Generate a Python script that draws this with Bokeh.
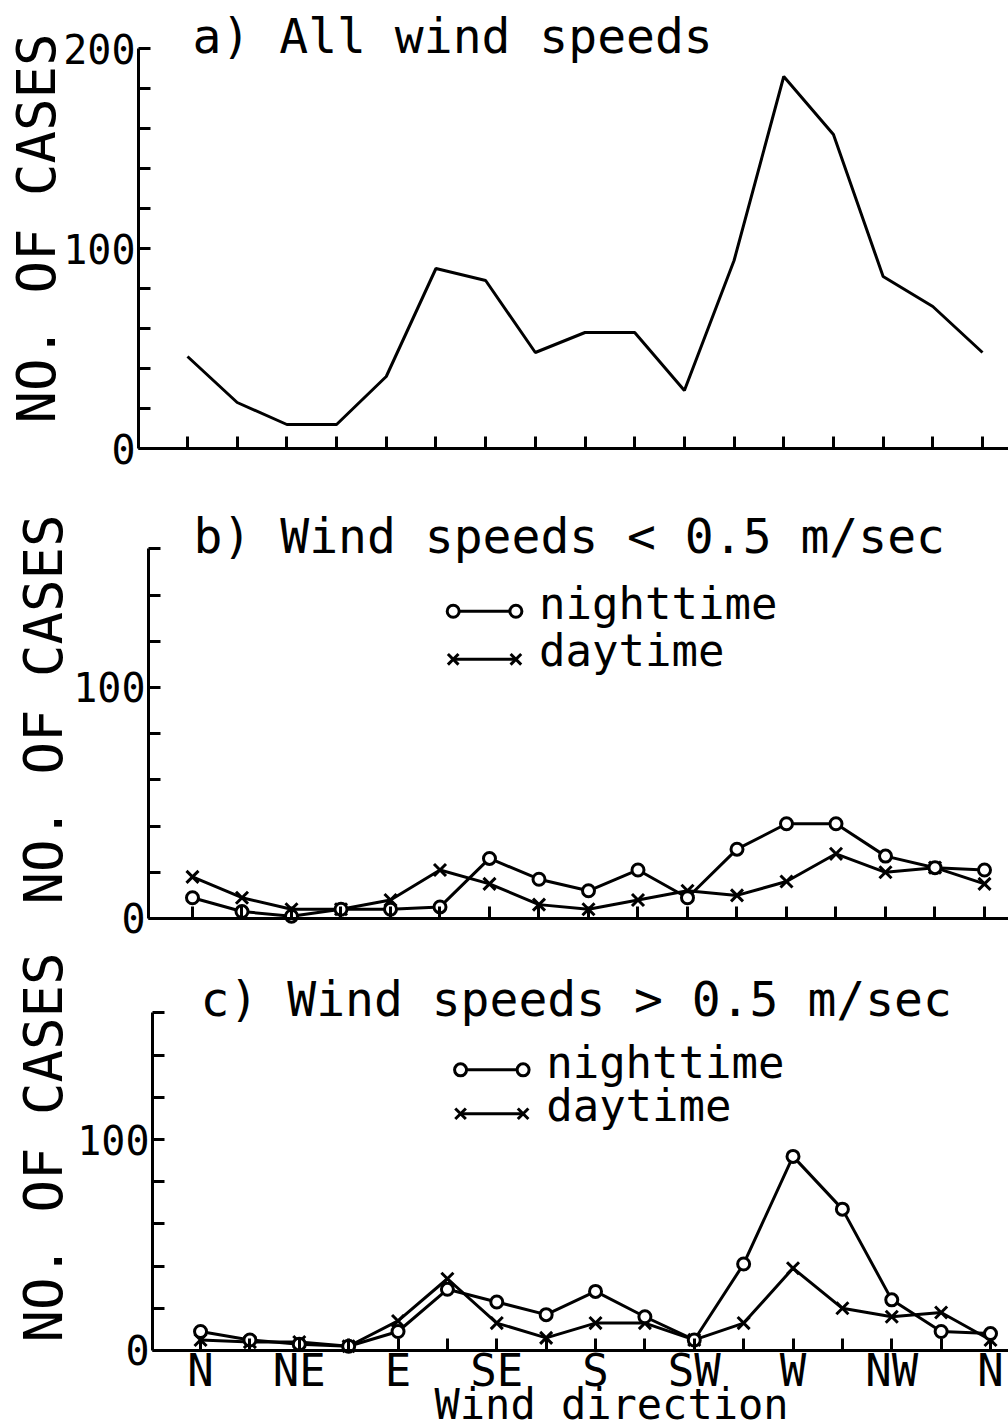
import math
from bokeh.plotting import figure
from bokeh.layouts import column
from bokeh.models import FixedTicker, Label, ColumnDataSource, Range1d
from bokeh.embed import file_html
from bokeh.resources import INLINE

# ---------------- data ----------------
directions = ["N", "NNE", "NE", "ENE", "E", "ESE", "SE", "SSE", "S",
              "SSW", "SW", "WSW", "W", "WNW", "NW", "NNW", "N"]
step_deg = 22.5

all_speeds = [46, 23, 12, 12, 36, 90, 84, 48, 58, 58, 29, 94, 186, 157, 86, 71, 48]

calm_night = [9, 3, 1, 4, 4, 5, 26, 17, 12, 21, 9, 30, 41, 41, 27, 22, 21]
calm_day = [18, 9, 4, 4, 8, 21, 15, 6, 4, 8, 12, 10, 16, 28, 20, 22, 15]

windy_night = [9, 5, 3, 2, 9, 29, 23, 17, 28, 16, 5, 41, 92, 67, 24, 9, 8]
windy_day = [5, 4, 4, 2, 14, 34, 13, 6, 13, 13, 5, 13, 39, 20, 16, 18, 5]

x_tick_labels = {0: "N", 45: "NE", 90: "E", 135: "SE", 180: "S",
                 225: "SW", 270: "W", 315: "NW", 360: "N"}
y_tick_labels = {0: "0", 100: "100", 200: "200"}

titles = ["a) All wind speeds", "b) Wind speeds < 0.5 m/sec", "c) Wind speeds > 0.5 m/sec"]
y_title = "NO. OF CASES"
x_title = "Wind direction"
series_names = ["nighttime", "daytime"]

deg = [i * step_deg for i in range(len(directions))]

FONT = "DejaVu Sans Mono"
INK = "black"
WIDTH = 1008


def make_panel(h, xr, yr, axis_x, ytop, show_x_labels):
    p = figure(width=WIDTH, height=h, x_range=Range1d(*xr), y_range=Range1d(*yr),
               output_backend="svg", toolbar_location=None,
               min_border_left=0, min_border_right=0,
               min_border_top=0, min_border_bottom=0)
    p.outline_line_color = None
    p.grid.visible = False
    p.background_fill_color = "white"
    p.border_fill_color = "white"

    xa = p.xaxis[0]
    ya = p.yaxis[0]
    for ax in (xa, ya):
        ax.axis_line_width = 3
        ax.axis_line_color = INK
        ax.major_tick_line_width = 3
        ax.major_tick_line_color = INK
        ax.major_tick_in = 12
        ax.major_tick_out = 0
        ax.minor_tick_line_color = None
        ax.major_label_text_font = FONT
        ax.major_label_text_color = INK

    xa.fixed_location = 0
    xa.bounds = (axis_x, xr[1])
    xa.ticker = FixedTicker(ticks=deg)
    if show_x_labels:
        xa.major_label_overrides = {float(t): (x_tick_labels[int(t)] if float(t).is_integer() and int(t) in x_tick_labels else "") for t in deg}
        xa.major_label_text_font_size = "44px"
        xa.major_label_standoff = -5
    else:
        xa.major_label_overrides = {float(t): "" for t in deg}
        xa.major_label_text_font_size = "0px"

    yticks = [float(v) for v in range(0, ytop + 1, 20)]
    ya.fixed_location = axis_x
    ya.ticker = FixedTicker(ticks=yticks)
    ya.bounds = (0, ytop)
    ya.major_label_overrides = {t: y_tick_labels.get(int(t), "") for t in yticks}
    ya.major_label_text_font_size = "40px"
    ya.major_label_standoff = 3
    return p


def add_text(p, text, x, y, size, align="left", baseline="middle", angle=0.0):
    p.add_layout(Label(x=x, y=y, text=text, text_font=FONT, text_font_size=size,
                       text_align=align, text_baseline=baseline, angle=angle,
                       text_color=INK))


def add_pair(p, night, day):
    src = ColumnDataSource(dict(deg=deg, night=night, day=day))
    p.line("deg", "day", source=src, line_width=3, line_color=INK)
    p.line("deg", "night", source=src, line_width=3, line_color=INK)
    p.scatter("deg", "day", source=src, marker="x", size=17, line_width=3, line_color=INK)
    p.scatter("deg", "night", source=src, marker="circle", size=12, line_width=3,
              line_color=INK, fill_color="white")


def add_legend(p):
    # legend layout (data units of the panel)
    lx0, lx1, ltx = 118.5, 147.0, 157.5
    rows = [(133.0, 136.3, "circle", series_names[0]),
            (112.2, 116.1, "x", series_names[1])]
    for my, ty, mk, name in rows:
        p.line([lx0, lx1], [my, my], line_width=3, line_color=INK)
        if mk == "circle":
            p.scatter([lx0, lx1], [my, my], marker="circle", size=12, line_width=3,
                      line_color=INK, fill_color="white")
        else:
            p.scatter([lx0, lx1], [my, my], marker="x", size=15, line_width=3, line_color=INK)
        add_text(p, name, ltx, ty, "44px")


# ---------------- panel a ----------------
pa = make_panel(476, (-84.68, 371.77), (-14.0, 224.0), -22.19, 200, False)
pa.line(deg, all_speeds, line_width=3, line_color=INK)
add_text(pa, titles[0], 2.3, 206.5, "48px")
add_text(pa, y_title, -68.4, 110, "54px", align="center", angle=math.pi / 2)

# ---------------- panel b ----------------
pb = make_panel(468, (-87.27, 370.91), (-11.26, 191.34), -20.0, 160, False)
add_pair(pb, calm_night, calm_day)
add_legend(pb)
add_text(pb, titles[1], 0.5, 165.4, "48px")
add_text(pb, y_title, -67.7, 90.5, "54px", align="center", angle=math.pi / 2)

# ---------------- panel c ----------------
pc = make_panel(484, (-91.16, 368.2), (-36.97, 192.42), -21.88, 160, True)
add_pair(pc, windy_night, windy_day)
add_legend(pc)
add_text(pc, titles[2], 0.0, 166.6, "48px")
add_text(pc, y_title, -71.6, 96.2, "54px", align="center", angle=math.pi / 2)
add_text(pc, x_title, 187.3, -25.4, "42px", align="center")

layout = column(pa, pb, pc)
open("out.html", "w").write(file_html(layout, INLINE))
